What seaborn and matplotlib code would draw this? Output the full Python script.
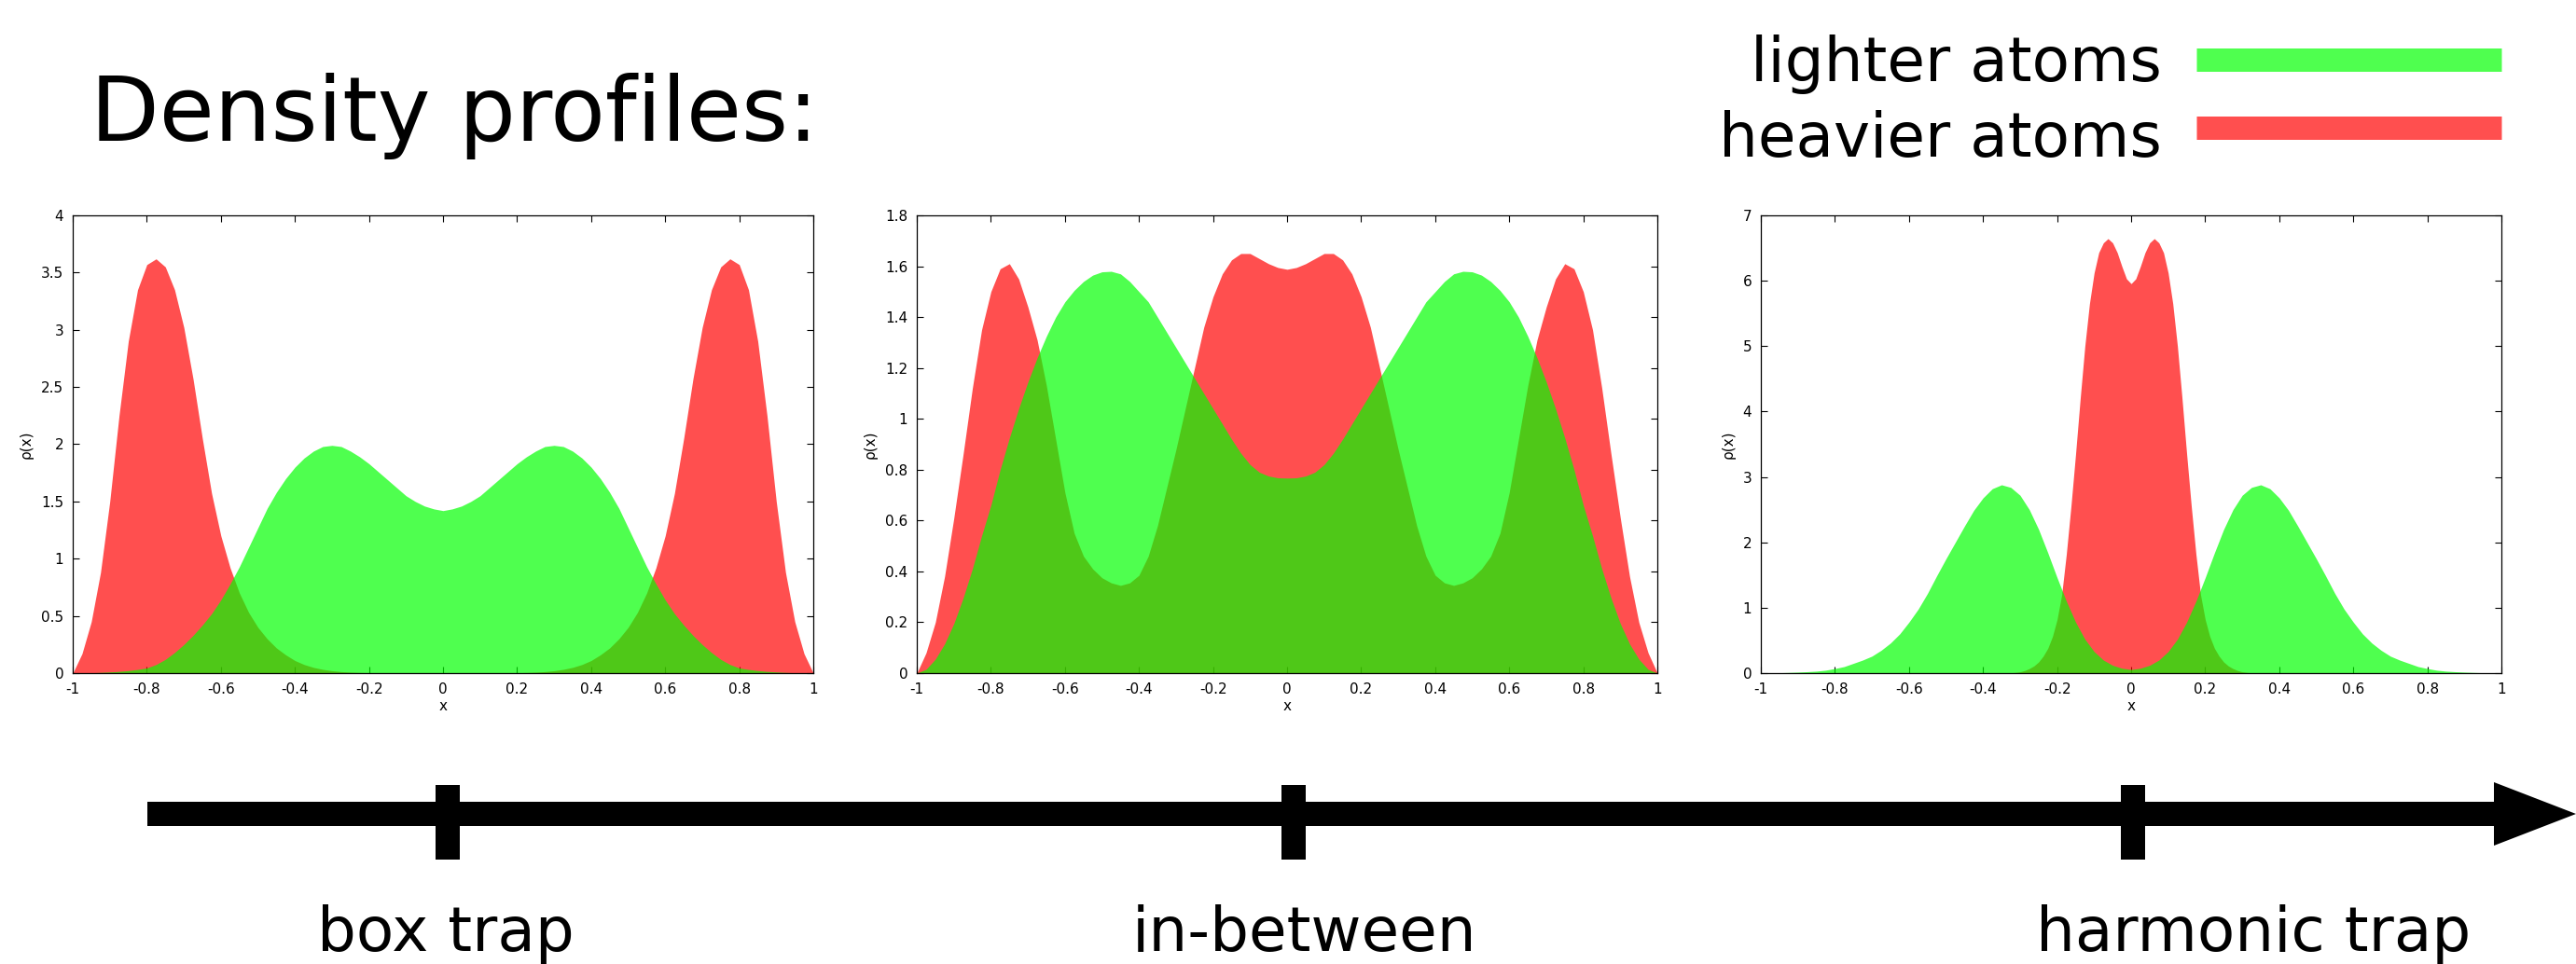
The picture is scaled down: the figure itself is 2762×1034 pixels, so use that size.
import numpy as np
import pandas as pd
import matplotlib
matplotlib.use("Agg")
import matplotlib.pyplot as plt
from matplotlib.ticker import FuncFormatter
import seaborn as sns

W, H = 2762, 1034

# sampling positions of the density profiles
x_grid = np.linspace(-1, 1, 81)
x_narrow = np.linspace(-0.35, 0.35, 57)

# box trap
box_heavy = [
    0, 0.17, 0.45, 0.88, 1.5, 2.25, 2.9, 3.35, 3.57, 3.62,
    3.55, 3.35, 3.02, 2.57, 2.05, 1.57, 1.2, 0.92, 0.7, 0.53,
    0.4, 0.3, 0.22, 0.16, 0.11, 0.075, 0.05, 0.033, 0.021, 0.013,
    0.008, 0.005, 0.003, 0.002, 0.001, 0, 0, 0, 0, 0,
    0,
    0, 0, 0, 0, 0, 0.001, 0.002, 0.003, 0.005, 0.008,
    0.013, 0.021, 0.033, 0.05, 0.075, 0.11, 0.16, 0.22, 0.3, 0.4,
    0.53, 0.7, 0.92, 1.2, 1.57, 2.05, 2.57, 3.02, 3.35, 3.55,
    3.62, 3.57, 3.35, 2.9, 2.25, 1.5, 0.88, 0.45, 0.17, 0,
]
box_light = [
    0, 0.001, 0.003, 0.006, 0.01, 0.015, 0.022, 0.032, 0.045, 0.075,
    0.12, 0.18, 0.25, 0.33, 0.42, 0.52, 0.64, 0.78, 0.93, 1.1,
    1.27, 1.44, 1.58, 1.7, 1.8, 1.88, 1.94, 1.98, 1.99, 1.98,
    1.94, 1.89, 1.83, 1.76, 1.69, 1.62, 1.55, 1.5, 1.46, 1.435,
    1.42,
    1.435, 1.46, 1.5, 1.55, 1.62, 1.69, 1.76, 1.83, 1.89, 1.94,
    1.98, 1.99, 1.98, 1.94, 1.88, 1.8, 1.7, 1.58, 1.44, 1.27,
    1.1, 0.93, 0.78, 0.64, 0.52, 0.42, 0.33, 0.25, 0.18, 0.12,
    0.075, 0.045, 0.032, 0.022, 0.015, 0.01, 0.006, 0.003, 0.001, 0,
]

# in-between
mid_heavy = [
    0, 0.08, 0.2, 0.38, 0.61, 0.86, 1.12, 1.35, 1.5, 1.59,
    1.61, 1.55, 1.44, 1.31, 1.13, 0.92, 0.71, 0.55, 0.46, 0.41,
    0.375, 0.355, 0.345, 0.355, 0.385, 0.46, 0.58, 0.73, 0.88, 1.04,
    1.2, 1.36, 1.48, 1.57, 1.625, 1.65, 1.65, 1.63, 1.61, 1.595,
    1.588,
    1.595, 1.61, 1.63, 1.65, 1.65, 1.625, 1.57, 1.48, 1.36, 1.2,
    1.04, 0.88, 0.73, 0.58, 0.46, 0.385, 0.355, 0.345, 0.355, 0.375,
    0.41, 0.46, 0.55, 0.71, 0.92, 1.13, 1.31, 1.44, 1.55, 1.61,
    1.59, 1.5, 1.35, 1.12, 0.86, 0.61, 0.38, 0.2, 0.08, 0,
]
mid_light = [
    0, 0.015, 0.055, 0.115, 0.195, 0.295, 0.41, 0.54, 0.66, 0.8,
    0.925, 1.04, 1.145, 1.24, 1.325, 1.4, 1.46, 1.505, 1.54, 1.565,
    1.578, 1.58, 1.57, 1.54, 1.5, 1.46, 1.4, 1.34, 1.28, 1.22,
    1.16, 1.1, 1.04, 0.98, 0.92, 0.865, 0.82, 0.79, 0.775, 0.768,
    0.767,
    0.768, 0.775, 0.79, 0.82, 0.865, 0.92, 0.98, 1.04, 1.1, 1.16,
    1.22, 1.28, 1.34, 1.4, 1.46, 1.5, 1.54, 1.57, 1.58, 1.578,
    1.565, 1.54, 1.505, 1.46, 1.4, 1.325, 1.24, 1.145, 1.04, 0.925,
    0.8, 0.66, 0.54, 0.41, 0.295, 0.195, 0.115, 0.055, 0.015, 0,
]

# harmonic trap
harm_heavy = [
    0, 0.002, 0.005, 0.01, 0.02, 0.04, 0.07, 0.11, 0.17, 0.26,
    0.38, 0.56, 0.82, 1.2, 1.82, 2.55, 3.35, 4.2, 5.0, 5.65,
    6.12, 6.43, 6.58, 6.645, 6.58, 6.43, 6.22, 6.03,
    5.956,
    6.03, 6.22, 6.43, 6.58, 6.645, 6.58, 6.43, 6.12, 5.65, 5.0,
    4.2, 3.35, 2.55, 1.82, 1.2, 0.82, 0.56, 0.38, 0.26, 0.17,
    0.11, 0.07, 0.04, 0.02, 0.01, 0.005, 0.002, 0,
]
harm_light = [
    0, 0.003, 0.006, 0.01, 0.015, 0.022, 0.03, 0.045, 0.07, 0.1,
    0.15, 0.2, 0.26, 0.35, 0.46, 0.6, 0.78, 0.98, 1.22, 1.49,
    1.75, 2.0, 2.25, 2.49, 2.68, 2.82, 2.88, 2.84, 2.72, 2.5,
    2.2, 1.84, 1.46, 1.1, 0.78, 0.52, 0.33, 0.2, 0.12, 0.075,
    0.055,
    0.075, 0.12, 0.2, 0.33, 0.52, 0.78, 1.1, 1.46, 1.84, 2.2,
    2.5, 2.72, 2.84, 2.88, 2.82, 2.68, 2.49, 2.25, 2.0, 1.75,
    1.49, 1.22, 0.98, 0.78, 0.6, 0.46, 0.35, 0.26, 0.2, 0.15,
    0.1, 0.07, 0.045, 0.03, 0.022, 0.015, 0.01, 0.006, 0.003, 0,
]

trap_names = ["box trap", "in-between", "harmonic trap"]
species_names = ["lighter atoms", "heavier atoms"]
species_colors = [(0, 1, 0), (1, 0, 0)]
y_tops = [4, 1.8, 7]
y_steps = [0.5, 0.2, 1]

# long-form table for the facet grid
parts = []
for trap, species, xs, ys in [
    ("box trap", "heavier atoms", x_grid, box_heavy),
    ("box trap", "lighter atoms", x_grid, box_light),
    ("in-between", "heavier atoms", x_grid, mid_heavy),
    ("in-between", "lighter atoms", x_grid, mid_light),
    ("harmonic trap", "heavier atoms", x_narrow, harm_heavy),
    ("harmonic trap", "lighter atoms", x_grid, harm_light),
]:
    parts.append(pd.DataFrame({"trap": trap, "species": species, "x": xs, "rho": ys}))
df = pd.concat(parts, ignore_index=True)

sns.set_theme(style="ticks")
plt.rcParams["font.family"] = ["DejaVu Sans"]
plt.rcParams["text.color"] = "black"
plt.rcParams["axes.labelcolor"] = "black"

palette = dict(zip(species_names, species_colors))
g = sns.FacetGrid(df, col="trap", col_order=trap_names, hue="species",
                  hue_order=["heavier atoms", "lighter atoms"], palette=palette,
                  sharex=True, sharey=False, despine=False, height=5, aspect=1)
# red drawn first, green laid over it
g.map(plt.fill_between, "x", "rho", alpha=0.69, linewidth=0)
g.set_titles(template="")

fig = g.figure
fig.set_size_inches(W / 100, H / 100)
fig.subplots_adjust(left=78 / W, right=2682 / W, bottom=1 - 722 / H, top=1 - 231 / H,
                    wspace=0.1398)

fmt = FuncFormatter(lambda v, p: f"{round(v, 2) + 0:g}")
for ax, top, step in zip(g.axes.flat, y_tops, y_steps):
    ax.set_xlim(-1, 1)
    ax.set_ylim(0, top)
    ax.set_xticks(np.linspace(-1, 1, 11))
    ax.set_yticks(np.arange(0, top + step / 2, step))
    ax.xaxis.set_major_formatter(fmt)
    ax.yaxis.set_major_formatter(fmt)
    ax.tick_params(direction="in", length=5, width=0.8, top=True, right=True,
                   labelsize=11, pad=7, colors="black")
    ax.set_xlabel("x", fontsize=11, labelpad=2, color="black")
    ax.set_ylabel("ρ(x)", fontsize=11, labelpad=6, color="black")
    for sp in ax.spines.values():
        sp.set_color("black")
        sp.set_linewidth(0.9)

# overlay in pixel coordinates for title, legend and the arrow
ov = fig.add_axes([0, 0, 1, 1])
ov.set_xlim(0, W)
ov.set_ylim(H, 0)
ov.axis("off")

ov.text(97, 151, "Density profiles:", fontsize=69, ha="left", va="baseline", color="black")

for name, color, base, mid in zip(species_names, species_colors, [87, 168], [64, 136.5]):
    ov.text(2318, base, name, fontsize=47.5, ha="right", va="baseline", color="black")
    ov.plot([2355, 2682], [mid, mid], lw=18, color=color, alpha=0.69,
            solid_capstyle="butt")

arrow_x = [158, 2674, 2674, 2762, 2674, 2674, 158]
arrow_y = [860, 860, 839, 873, 907, 886, 886]
ov.fill(arrow_x, arrow_y, color="black", lw=0)
for tx in [480, 1387, 2287]:
    ov.fill([tx - 13, tx + 13, tx + 13, tx - 13], [842, 842, 922, 922], color="black", lw=0)

for name, cx in zip(trap_names, [478, 1399, 2416]):
    ov.text(cx, 1020, name, fontsize=47.5, ha="center", va="baseline", color="black")

fig.savefig("out.png", dpi=100)
